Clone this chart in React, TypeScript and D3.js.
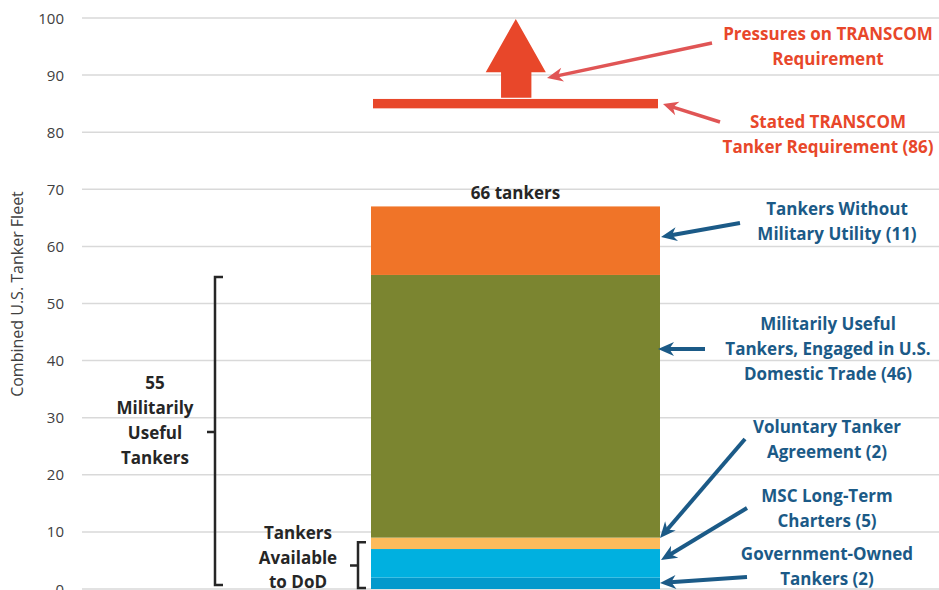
import React from "react";
import * as d3 from "d3";

const segmentNames = ["Government-Owned", "MSC Long-Term Charters", "Voluntary Tanker Agreement", "Militarily Useful, Domestic Trade", "Without Military Utility"];
const segmentValues = [2, 5, 2, 46, 12];
const segmentColors = ["#0399cc", "#00b0e0", "#fdbb5c", "#7b8530", "#f07428"];
const yTicks = [0, 10, 20, 30, 40, 50, 60, 70, 80, 90, 100];
const requirementLevel = 85;
const pressureTop = 100;
const totalLabel = "66 tankers";

const W = 939, H = 590;
const FONT = "'Open Sans', Lato, sans-serif";
const RED = "#e8472a";
const RED_ARROW = "#e05555";
const BLUE = "#1b5a87";
const DARK = "#262626";

function Arrow({ x1, y1, x2, y2, color, w, head, headW }: any) {
  const dx = x2 - x1, dy = y2 - y1;
  const len = Math.sqrt(dx * dx + dy * dy);
  const ux = dx / len, uy = dy / len;
  const px = -uy, py = ux;
  const bx = x2 - ux * head, by = y2 - uy * head;
  const nx = x2 - ux * head * 0.7, ny = y2 - uy * head * 0.7;
  const pts = [
    [x2, y2],
    [bx + px * headW, by + py * headW],
    [nx, ny],
    [bx - px * headW, by - py * headW],
  ];
  return (
    <g>
      <line x1={x1} y1={y1} x2={nx + ux * 1} y2={ny + uy * 1} stroke={color} strokeWidth={w} />
      <polygon points={pts.map((p) => p.join(",")).join(" ")} fill={color} />
    </g>
  );
}

function Lines({ x, y0, lines, color, size = 17, gap = 25 }: any) {
  return (
    <text x={x} y={y0} textAnchor="middle" fill={color} fontFamily={FONT} fontWeight={700} fontSize={size}>
      {lines.map((l: string, i: number) => (
        <tspan key={i} x={x} y={y0 + i * gap}>{l}</tspan>
      ))}
    </text>
  );
}

export default function App() {
  const y = d3.scaleLinear().domain([0, 100]).range([589, 18]);
  const x = d3.scaleBand().domain(["fleet"]).range([371, 660]).padding(0);
  const bx = x("fleet") as number;
  const bw = x.bandwidth();
  const stack = d3.cumsum(segmentValues);
  const starts = [0, ...Array.from(stack).slice(0, -1)];
  const total = stack[stack.length - 1];

  const shaftL = bx + bw * 0.45, shaftR = bx + bw * 0.555;
  const headL = bx + bw * 0.397, headR = bx + bw * 0.605;
  const headBase = y(90.5);

  return (
    <svg width={W} height={H} style={{ position: "absolute", left: 0, top: 0, background: "#fff" }}>
      {yTicks.map((t) => (
        <g key={t}>
          <line x1={82} x2={W} y1={y(t)} y2={y(t)} stroke="#d9d9d9" strokeWidth={1.5} />
          <text x={64} y={y(t) + 5.5} textAnchor="end" fontFamily={FONT} fontSize={15} fill="#404040">{t}</text>
        </g>
      ))}
      <text transform={`translate(23,${294}) rotate(-90)`} textAnchor="middle" fontFamily={FONT} fontSize={16} fill="#404040">
        Combined U.S. Tanker Fleet
      </text>

      {segmentValues.map((v, i) => (
        <rect key={segmentNames[i]} x={bx} width={bw} y={y(starts[i] + v)} height={y(starts[i]) - y(starts[i] + v)} fill={segmentColors[i]} />
      ))}
      <text x={bx + bw / 2} y={y(total) - 7} textAnchor="middle" fontFamily={FONT} fontWeight={700} fontSize={17} fill={DARK}>{totalLabel}</text>

      {/* requirement bar */}
      <rect x={bx + 2} width={bw - 4} y={y(requirementLevel) - 4.7} height={9.4} fill={RED} />
      {/* pressure arrow */}
      <polygon
        points={[
          [shaftL, y(requirementLevel) - 6],
          [shaftL, headBase],
          [headL, headBase],
          [(headL + headR) / 2, y(pressureTop) + 1],
          [headR, headBase],
          [shaftR, headBase],
          [shaftR, y(requirementLevel) - 6],
        ].map((p) => p.join(",")).join(" ")}
        fill={RED}
      />

      {/* red annotations */}
      <Arrow x1={712} y1={43} x2={547} y2={78} color={RED_ARROW} w={3.5} head={16} headW={7} />
      <Arrow x1={720} y1={122} x2={663} y2={104} color={RED_ARROW} w={3.5} head={15} headW={7} />
      <Lines x={828} y0={40} lines={["Pressures on TRANSCOM", "Requirement"]} color={RED} />
      <Lines x={828} y0={128} lines={["Stated TRANSCOM", "Tanker Requirement (86)"]} color={RED} />

      {/* blue annotations */}
      <Arrow x1={740} y1={223} x2={661} y2={237} color={BLUE} w={4} head={16} headW={7} />
      <Arrow x1={705} y1={349} x2={658} y2={349} color={BLUE} w={4} head={16} headW={7} />
      <Arrow x1={745} y1={439} x2={660} y2={538} color={BLUE} w={4} head={16} headW={7} />
      <Arrow x1={747} y1={508} x2={661} y2={560} color={BLUE} w={4} head={16} headW={7} />
      <Arrow x1={747} y1={577} x2={660} y2={583} color={BLUE} w={4} head={16} headW={7} />
      <Lines x={837} y0={215} lines={["Tankers Without", "Military Utility (11)"]} color={BLUE} />
      <Lines x={828} y0={330} lines={["Militarily Useful", "Tankers, Engaged in U.S.", "Domestic Trade (46)"]} color={BLUE} />
      <Lines x={827} y0={433} lines={["Voluntary Tanker", "Agreement (2)"]} color={BLUE} />
      <Lines x={827} y0={502} lines={["MSC Long-Term", "Charters (5)"]} color={BLUE} />
      <Lines x={827} y0={560} lines={["Government-Owned", "Tankers (2)"]} color={BLUE} />

      {/* brackets */}
      <path d={`M223,${y(55) + 2} H215 V${y(0) - 4} H223 M215,${(y(55) + y(0)) / 2} H207`} fill="none" stroke={DARK} strokeWidth={2.5} />
      <path d={`M366,${y(8.2)} H358 V${y(0) - 1} H366 M358,${(y(8.2) + y(0)) / 2} H350`} fill="none" stroke={DARK} strokeWidth={2.5} />
      <Lines x={155} y0={389} lines={["55", "Militarily", "Useful", "Tankers"]} color={DARK} />
      <Lines x={298} y0={539} lines={["Tankers", "Available", "to DoD"]} color={DARK} gap={24.5} />
    </svg>
  );
}
